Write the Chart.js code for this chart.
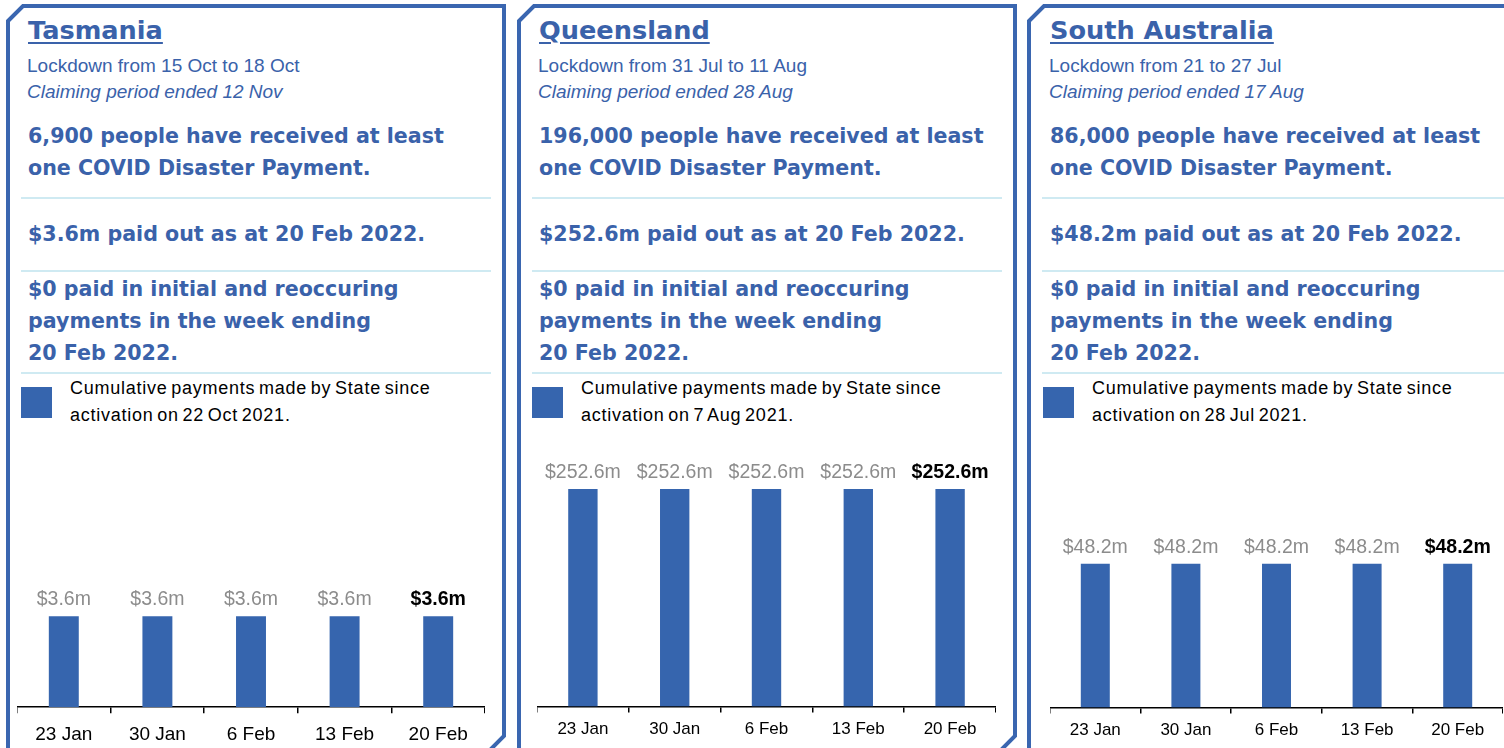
<!DOCTYPE html>
<html lang="en">
<head>
  <meta charset="UTF-8" />
  <title>COVID Disaster Payment - by State</title>
  <script src="https://cdn.jsdelivr.net/npm/chart.js"></script>
  <script>
    // chart data (one entry per panel)
    const weeks = ['23 Jan', '30 Jan', '6 Feb', '13 Feb', '20 Feb'];
    const tasmaniaPaid = [3.6, 3.6, 3.6, 3.6, 3.6];
    const queenslandPaid = [252.6, 252.6, 252.6, 252.6, 252.6];
    const southAustraliaPaid = [48.2, 48.2, 48.2, 48.2, 48.2];
    // each panel has its own scale top
    const scaleMax = [10.96, 321, 93];
  </script>
  <style>
    body { margin: 0; width: 1504px; height: 748px; overflow: hidden; background: #fff; position: relative; }
    .frame { position: absolute; left: 0; top: 0; }
    .txt { position: absolute; white-space: nowrap; color: #3a62aa; }
    .title { font: bold 25.6px "DejaVu Sans"; line-height: 30px; text-decoration: underline; text-underline-offset: 3px; text-decoration-thickness: 2px; }
    .sub { font: 19px "Liberation Sans"; line-height: 22px; }
    .big { font: bold 20.6px "DejaVu Sans"; line-height: 32px; }
    .sep { position: absolute; height: 2px; width: 470px; background: #cfeaf2; }
    .key { position: absolute; width: 31px; height: 31px; background: #3665ae; }
    .keytxt { position: absolute; white-space: nowrap; color: #000; font: 18px "Liberation Sans"; line-height: 27px; letter-spacing: 0.75px; word-spacing: -2px; }
    .chartbox { position: absolute; top: 430px; }
  </style>
</head>
<body>
  <svg class="frame" width="1504" height="748">
    <g fill="none" stroke="#3a66b0" stroke-width="4">
      <polygon points="8,21 23,6 504,6 504,736 490,750 8,750" />
      <polygon points="519,21 534,6 1015,6 1015,736 1001,750 519,750" />
      <polygon points="1029,21 1044,6 1525,6 1525,736 1511,750 1029,750" />
    </g>
  </svg>

  <!-- Tasmania -->
  <div class="txt title" style="left:28px; top:15px;">Tasmania</div>
  <div class="txt sub" style="left:27px; top:55px;">Lockdown from 15 Oct to 18 Oct</div>
  <div class="txt sub" style="left:27px; top:81px; font-style:italic;">Claiming period ended 12 Nov</div>
  <div class="txt big" style="left:28px; top:120px;">6,900 people have received at least<br>one COVID Disaster Payment.</div>
  <div class="sep" style="left:21px; top:197px;"></div>
  <div class="txt big" style="left:28px; top:218px;">$3.6m paid out as at 20 Feb 2022.</div>
  <div class="sep" style="left:21px; top:270px;"></div>
  <div class="txt big" style="left:28px; top:273px;">$0 paid in initial and reoccuring<br>payments in the week ending<br>20 Feb 2022.</div>
  <div class="sep" style="left:21px; top:372px;"></div>
  <div class="key" style="left:21px; top:387px;"></div>
  <div class="keytxt" style="left:70px; top:375px;">Cumulative payments made by State since<br>activation on 22 Oct 2021.</div>
  <div class="chartbox" style="left:17px; width:468px; height:328px;"><canvas id="chartTas"></canvas></div>

  <!-- Queensland -->
  <div class="txt title" style="left:539px; top:15px;">Queensland</div>
  <div class="txt sub" style="left:538px; top:55px;">Lockdown from 31 Jul to 11 Aug</div>
  <div class="txt sub" style="left:538px; top:81px; font-style:italic;">Claiming period ended 28 Aug</div>
  <div class="txt big" style="left:539px; top:120px;">196,000 people have received at least<br>one COVID Disaster Payment.</div>
  <div class="sep" style="left:532px; top:197px;"></div>
  <div class="txt big" style="left:539px; top:218px;">$252.6m paid out as at 20 Feb 2022.</div>
  <div class="sep" style="left:532px; top:270px;"></div>
  <div class="txt big" style="left:539px; top:273px;">$0 paid in initial and reoccuring<br>payments in the week ending<br>20 Feb 2022.</div>
  <div class="sep" style="left:532px; top:372px;"></div>
  <div class="key" style="left:532px; top:387px;"></div>
  <div class="keytxt" style="left:581px; top:375px;">Cumulative payments made by State since<br>activation on 7 Aug 2021.</div>
  <div class="chartbox" style="left:537px; width:459px; height:319px;"><canvas id="chartQld"></canvas></div>

  <!-- South Australia -->
  <div class="txt title" style="left:1050px; top:15px;">South Australia</div>
  <div class="txt sub" style="left:1049px; top:55px;">Lockdown from 21 to 27 Jul</div>
  <div class="txt sub" style="left:1049px; top:81px; font-style:italic;">Claiming period ended 17 Aug</div>
  <div class="txt big" style="left:1050px; top:120px;">86,000 people have received at least<br>one COVID Disaster Payment.</div>
  <div class="sep" style="left:1042px; top:197px;"></div>
  <div class="txt big" style="left:1050px; top:218px;">$48.2m paid out as at 20 Feb 2022.</div>
  <div class="sep" style="left:1042px; top:270px;"></div>
  <div class="txt big" style="left:1050px; top:273px;">$0 paid in initial and reoccuring<br>payments in the week ending<br>20 Feb 2022.</div>
  <div class="sep" style="left:1042px; top:372px;"></div>
  <div class="key" style="left:1043px; top:387px;"></div>
  <div class="keytxt" style="left:1092px; top:375px;">Cumulative payments made by State since<br>activation on 28 Jul 2021.</div>
  <div class="chartbox" style="left:1050px; width:453px; height:320px;"><canvas id="chartSA"></canvas></div>

  <script>
    // value labels above each bar, last week bold black
    const valueLabels = {
      id: 'valueLabels',
      afterDatasetsDraw(chart) {
        const ctx = chart.ctx;
        const meta = chart.getDatasetMeta(0);
        const values = chart.data.datasets[0].data;
        ctx.save();
        ctx.textAlign = 'center';
        ctx.textBaseline = 'alphabetic';
        meta.data.forEach((bar, i) => {
          const last = i === values.length - 1;
          ctx.font = (last ? 'bold ' : '') + '19.5px "Liberation Sans"';
          ctx.fillStyle = last ? '#000' : '#8c8c8c';
          ctx.fillText('$' + values[i].toFixed(1) + 'm', bar.x, bar.y - 11);
        });
        ctx.restore();
      }
    };

    function makeChart(id, values, yMax, tickSize, tickPad) {
      const ctx = document.getElementById(id).getContext('2d');
      return new Chart(ctx, {
        type: 'bar',
        data: {
          labels: weeks,
          datasets: [{
            data: values,
            backgroundColor: '#3665ae',
            categoryPercentage: 1,
            barPercentage: 0.32
          }]
        },
        options: {
          responsive: true,
          maintainAspectRatio: false,
          animation: false,
          layout: { padding: { top: 0, bottom: 2, left: 0, right: 0 } },
          plugins: { legend: { display: false }, tooltip: { enabled: false } },
          scales: {
            x: {
              offset: true,
              grid: { offset: true, drawOnChartArea: false, drawTicks: true, tickLength: 6, color: '#000', lineWidth: 1.5 },
              border: { display: true, color: '#000', width: 1.5 },
              ticks: { color: '#000', padding: tickPad, font: { family: 'Liberation Sans', size: tickSize } }
            },
            y: { display: false, min: 0, max: yMax }
          }
        },
        plugins: [valueLabels]
      });
    }

    window.addEventListener('load', () => {
      makeChart('chartTas', tasmaniaPaid, scaleMax[0], 19, 10);
      makeChart('chartQld', queenslandPaid, scaleMax[1], 17, 7);
      makeChart('chartSA', southAustraliaPaid, scaleMax[2], 17, 7);
    });
  </script>
</body>
</html>
